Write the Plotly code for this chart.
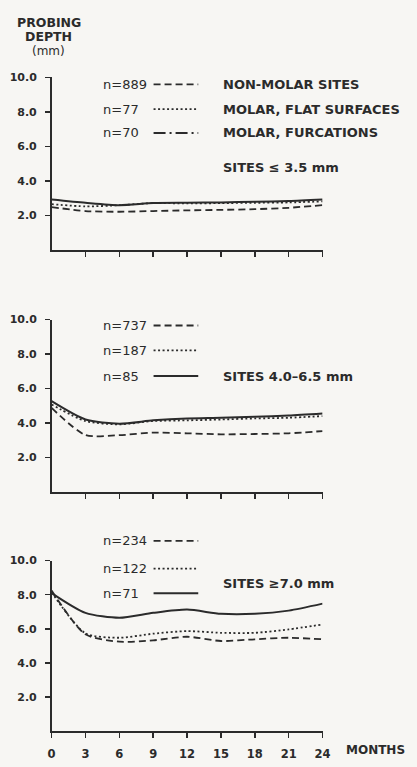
import plotly.graph_objects as go

months = [0, 3, 6, 9, 12, 15, 18, 21, 24]
tick_labels = ["0", "3", "6", "9", "12", "15", "18", "21", "24"]

# Panel 1: sites <= 3.5 mm
p1_nonmolar = [2.49, 2.26, 2.22, 2.26, 2.30, 2.33, 2.37, 2.45, 2.60]
p1_flat = [2.66, 2.53, 2.60, 2.72, 2.70, 2.72, 2.74, 2.76, 2.82]
p1_furc = [2.93, 2.74, 2.60, 2.72, 2.74, 2.76, 2.80, 2.84, 2.93]
# Panel 2: sites 4.0-6.5 mm
p2_nonmolar = [4.88, 3.31, 3.30, 3.45, 3.41, 3.35, 3.37, 3.41, 3.54]
p2_flat = [5.08, 4.12, 3.93, 4.12, 4.16, 4.21, 4.27, 4.31, 4.41]
p2_furc = [5.27, 4.21, 3.97, 4.16, 4.27, 4.31, 4.37, 4.44, 4.56]
# Panel 3: sites >= 7.0 mm
p3_nonmolar = [8.25, 5.68, 5.25, 5.33, 5.54, 5.29, 5.39, 5.48, 5.39]
p3_flat = [8.15, 5.74, 5.48, 5.72, 5.87, 5.77, 5.77, 5.97, 6.26]
p3_furc = [8.10, 6.94, 6.65, 6.94, 7.13, 6.88, 6.88, 7.07, 7.48]

n_labels = [["n=889", "n=77", "n=70"], ["n=737", "n=187", "n=85"], ["n=234", "n=122", "n=71"]]
group_labels = ["NON-MOLAR SITES", "MOLAR, FLAT SURFACES", "MOLAR, FURCATIONS"]
panel_labels = ["SITES \u2264 3.5 mm", "SITES 4.0\u20136.5 mm", "SITES \u22657.0 mm"]
y_ticks = [2, 4, 6, 8, 10]
y_tick_text = ["2.0", "4.0", "6.0", "8.0", "10.0"]

W, H = 417, 767
INK = "#2b2b2b"
FONT = "DejaVu Sans"

def px_x(x):
    return x / W

def px_y(y):
    return 1 - y / H

# plot-area pixel boxes
x_left, x_right = 49, 328
panels_px = [(72, 246), (316, 490), (559, 731)]

panels = [
    (p1_nonmolar, p1_flat, p1_furc),
    (p2_nonmolar, p2_flat, p2_furc),
    (p3_nonmolar, p3_flat, p3_furc),
]

fig = go.Figure()
styles = [
    dict(dash="7px,4px", width=1.8),
    dict(dash="2px,2.5px", width=1.8),
    dict(dash="solid", width=2.0),
]

for i, series in enumerate(panels):
    ax = "" if i == 0 else str(i + 1)
    for s, st in zip(series, styles):
        fig.add_trace(go.Scatter(
            x=months, y=s, mode="lines",
            line=dict(color=INK, width=st["width"], dash=st["dash"], shape="spline", smoothing=0.7),
            xaxis="x" + ax, yaxis="y" + ax, showlegend=False, hoverinfo="skip",
        ))

layout = dict(
    width=W, height=H,
    margin=dict(l=0, r=0, t=0, b=0),
    paper_bgcolor="#f7f6f3", plot_bgcolor="rgba(0,0,0,0)",
    font=dict(family=FONT, color=INK),
    showlegend=False,
)

for i, (top, bot) in enumerate(panels_px):
    key = "" if i == 0 else str(i + 1)
    last = i == 2
    layout["xaxis" + key] = dict(
        domain=[px_x(x_left), px_x(x_right)], range=[0, 24],
        anchor="y" + key,
        showline=True, linecolor=INK, linewidth=1.6,
        showgrid=False, zeroline=False,
        tickmode="array",
        tickvals=months if last else months[1:],
        ticktext=["<b>%s</b>" % t for t in tick_labels] if last else [""] * 8,
        showticklabels=last,
        ticks="outside", ticklen=5, tickwidth=1.4, tickcolor=INK,
        tickfont=dict(family=FONT, size=11.5, color=INK),
        ticklabelstandoff=6,
        fixedrange=True,
    )
    layout["yaxis" + key] = dict(
        domain=[px_y(bot), px_y(top)], range=[0, 10],
        anchor="x" + key,
        showline=True, linecolor=INK, linewidth=1.6,
        showgrid=False, zeroline=False,
        tickmode="array", tickvals=y_ticks,
        ticktext=["<b>%s</b>" % t for t in y_tick_text],
        ticks="outside", ticklen=5, tickwidth=1.4, tickcolor=INK,
        tickfont=dict(family=FONT, size=11, color=INK),
        ticklabelstandoff=6,
        fixedrange=True,
    )

fig.update_layout(**layout)

annotations = []
shapes = []

def text(x, y, s, size=12, xanchor="left"):
    annotations.append(dict(
        x=px_x(x), y=px_y(y), xref="paper", yref="paper", text=s,
        showarrow=False, xanchor=xanchor, yanchor="middle",
        font=dict(family=FONT, size=size, color=INK),
    ))

def sample(x0, x1, y, dash, width):
    shapes.append(dict(
        type="line", xref="paper", yref="paper",
        x0=px_x(x0), x1=px_x(x1), y0=px_y(y), y1=px_y(y),
        line=dict(color=INK, width=width, dash=dash),
    ))

# Y-axis title
text(46, 17, "<b>PROBING</b>", size=12.5, xanchor="center")
text(46, 31, "<b>DEPTH</b>", size=12.5, xanchor="center")
text(46, 45, "(mm)", size=12, xanchor="center")

# Panel legends
legend_rows = [(79, 104, 128), (322, 347, 373), (539, 567, 592)]
legend_dash = [
    ["7px,4px", "2px,2.5px", "12px,4px,2px,4px"],
    ["7px,4px", "2px,2.5px", "solid"],
    ["7px,4px", "2px,2.5px", "solid"],
]
for p in range(3):
    for r in range(3):
        y = legend_rows[p][r]
        text(100, y, n_labels[p][r], size=13)
        d = legend_dash[p][r]
        sample(154, 200, y, d, 2.0 if d == "solid" else 1.8)
        if p == 0:
            text(223, y, "<b>" + group_labels[r] + "</b>", size=13)

text(223, 163, "<b>" + panel_labels[0] + "</b>", size=13)
text(223, 373, "<b>" + panel_labels[1] + "</b>", size=13)
text(223, 582, "<b>" + panel_labels[2] + "</b>", size=13)

# x-axis title
text(350, 750, "<b>MONTHS</b>", size=12)

fig.update_layout(annotations=annotations, shapes=shapes)
fig.write_html(
    "out.html",
    config={"displayModeBar": False, "staticPlot": True},
    post_script="document.body.style.margin='0';document.body.style.overflow='hidden';",
)
